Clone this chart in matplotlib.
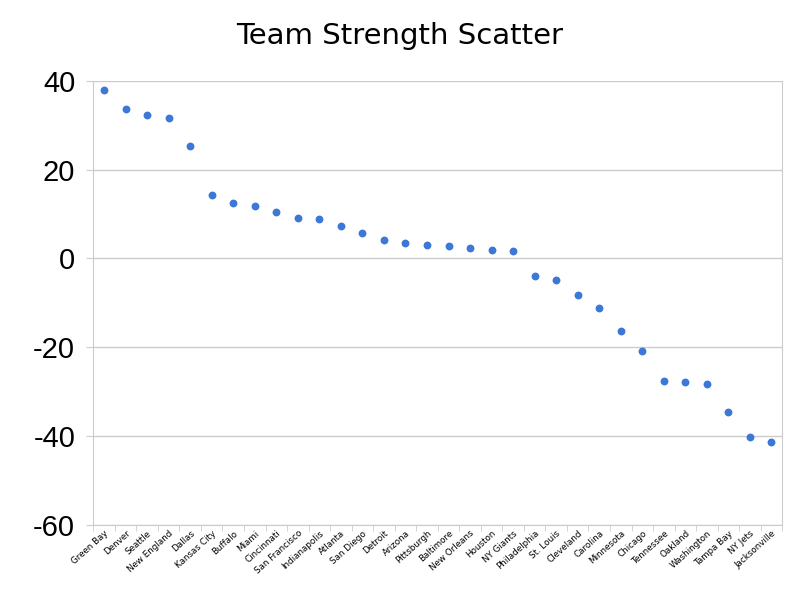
import matplotlib.pyplot as plt
import numpy as np

plt.rcParams['font.family'] = ['Liberation Sans', 'DejaVu Sans']

teams = ["Green Bay", "Denver", "Seattle", "New England", "Dallas", "Kansas City",
         "Buffalo", "Miami", "Cincinnati", "San Francisco", "Indianapolis", "Atlanta",
         "San Diego", "Detroit", "Arizona", "Pittsburgh", "Baltimore", "New Orleans",
         "Houston", "NY Giants", "Philadelphia", "St. Louis", "Cleveland", "Carolina",
         "Minnesota", "Chicago", "Tennessee", "Oakland", "Washington", "Tampa Bay",
         "NY Jets", "Jacksonville"]
strength = [37.9, 33.6, 32.3, 31.6, 25.3, 14.3, 12.5, 11.8, 10.4, 9.1, 8.9, 7.3,
            5.7, 4.1, 3.5, 3.0, 2.8, 2.3, 1.9, 1.6, -3.9, -4.9, -8.3, -11.2,
            -16.4, -20.9, -27.6, -27.9, -28.3, -34.6, -40.2, -41.4]
y_ticks = [-60, -40, -20, 0, 20, 40]

fig = plt.figure(figsize=(8, 6), dpi=100)
ax = fig.add_axes([0.1166, 0.1255, 0.8612, 0.7395])

x = np.arange(len(teams))
ax.scatter(x, strength, s=32, color="#3c78d8", zorder=3, linewidths=0)

ax.set_xlim(-0.5, len(teams) - 0.5)
ax.set_ylim(-60, 40)
ax.set_yticks(y_ticks)
ax.set_yticklabels([str(v) for v in y_ticks], fontsize=21, family="Liberation Sans")
ax.grid(axis="y", color="#cccccc", linewidth=1)
ax.set_axisbelow(True)

ax.set_xticks(x)
ax.set_xticklabels(teams, fontsize=6.3, rotation=42, ha="right", rotation_mode="anchor",
                   family="DejaVu Sans")
ax.set_xticks(np.arange(len(teams) + 1) - 0.5, minor=True)
ax.tick_params(axis="x", which="major", length=0, pad=3)
ax.tick_params(axis="x", which="minor", length=4, color="#cccccc")
ax.tick_params(axis="y", length=5, color="#cccccc", pad=8)

for side in ["left", "right", "bottom"]:
    ax.spines[side].set_color("#cccccc")
ax.spines["top"].set_visible(False)

fig.text(0.5, 0.94, "Team Strength Scatter", ha="center", va="center", fontsize=21,
         family="DejaVu Sans")

fig.savefig("out.png", dpi=100)
